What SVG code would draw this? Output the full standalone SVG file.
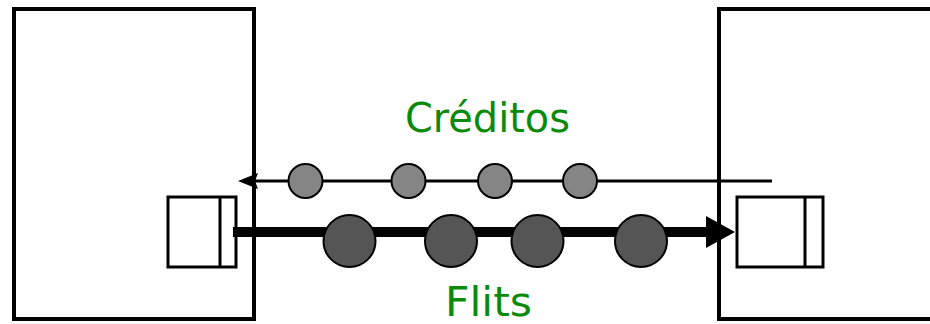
<svg xmlns="http://www.w3.org/2000/svg" width="930" height="324" viewBox="0 0 930 324">
<defs>
<style>
.router{fill:#fff;stroke:#000;stroke-width:4}
.buf{fill:#fff;stroke:#000;stroke-width:3}
.credit{fill:#858585;stroke:#000;stroke-width:2}
.flit{fill:#555;stroke:#000;stroke-width:2}
.lbl{fill:#0a8a0a;font-family:"Comic Sans MS","DejaVu Sans",sans-serif;font-size:40px}
</style>
</defs>
<g id="router-left"><rect class="router" x="14" y="9" width="240" height="310"/></g>
<g id="router-right"><rect class="router" x="719" y="9" width="220" height="310"/></g>
<g id="buffer-left"><rect class="buf" x="168" y="197" width="68" height="70"/><line x1="220" y1="197" x2="220" y2="267" stroke="#000" stroke-width="3"/></g>
<g id="buffer-right"><rect class="buf" x="737" y="197" width="86" height="70"/><line x1="805" y1="197" x2="805" y2="267" stroke="#000" stroke-width="3"/></g>
<g id="connectors">
<line x1="772" y1="181" x2="256" y2="181" stroke="#000" stroke-width="3"/>
<path d="M238,181 L258,173 L255,181 L258,189 Z" fill="#000"/>
<line x1="233" y1="232" x2="710" y2="232" stroke="#000" stroke-width="10"/>
<path d="M735,232 L706,216 L706,248 Z" fill="#000"/>
</g>
<g id="credits">
<circle class="credit" cx="305.5" cy="181" r="17"/>
<circle class="credit" cx="408.5" cy="181" r="17"/>
<circle class="credit" cx="495" cy="181" r="17"/>
<circle class="credit" cx="580" cy="181" r="17"/>
</g>
<g id="flits">
<circle class="flit" cx="349.5" cy="241" r="26"/>
<circle class="flit" cx="451" cy="241" r="26"/>
<circle class="flit" cx="537.5" cy="241" r="26"/>
<circle class="flit" cx="641" cy="241" r="26"/>
</g>
<g id="label-creditos"><text class="lbl" x="405" y="132" textLength="165" lengthAdjust="spacingAndGlyphs">Créditos</text></g>
<g id="label-flits"><text class="lbl" x="445" y="316" font-size="37" textLength="87" lengthAdjust="spacingAndGlyphs">Flits</text></g>
</svg>
